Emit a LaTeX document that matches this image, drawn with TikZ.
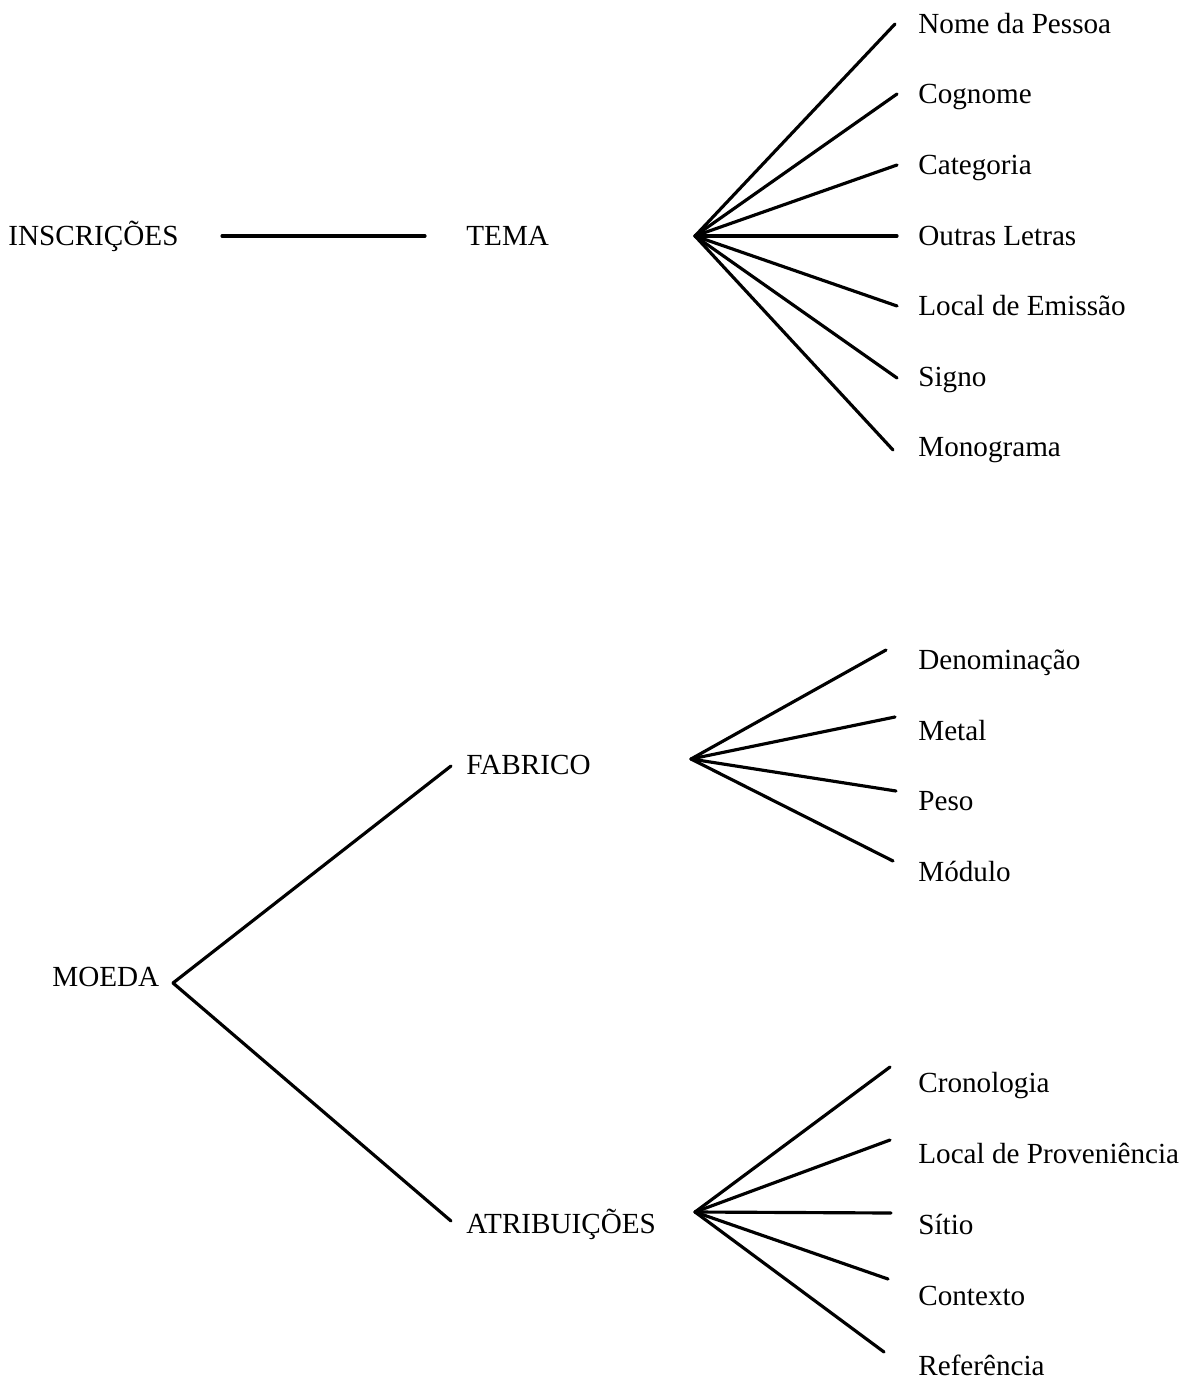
\documentclass[tikz,border=0pt]{standalone}
\usepackage{fontspec}
\setmainfont{Liberation Serif}
\usetikzlibrary{positioning}
\tikzset{
  termo/.style={anchor=base west, inner sep=0pt, font=\fontsize{16.6}{18}\selectfont},
  ramo/.style={line width=1.8pt, line cap=round},
}

\begin{document}
\begin{tikzpicture}[x=0.02cm,y=-0.02cm]
	%% frame of the page
	\useasboundingbox (0,0) rectangle (1191,1381);

	\def\folhax{918} % left edge of the leaf texts

	% INSCRICOES -- TEMA
	\node[termo] (insc) at (8,246) {INSCRIÇÕES};
	\node[termo] (tema) at (466,246) {TEMA};
	\coordinate (inscfim) at (222,236);
	\coordinate (temafim) at (425,236);
	\draw[ramo] (inscfim) -- (temafim);

	\coordinate (temafan) at (695,236);
	\foreach \nome/\y/\dx/\dy [count=\i] in {
		Nome da Pessoa/34/-23/-10,
		Cognome/104/-21/-10,
		Categoria/175/-21/-10,
		Outras Letras/246/-21/-10,
		Local de Emissão/316/-21/-10,
		Signo/387/-21/-9,
		Monograma/457/-25/-7}{
		\node[termo] (tema\i) at (\folhax,\y) {\nome};
		\draw[ramo] (temafan) -- ([shift={(\dx,\dy)}]tema\i.base west);
	}

	% MOEDA
	\node[termo] (moeda) at (52,986) {MOEDA};
	\coordinate (moedafan) at (173,983);
	\node[termo] (fab) at (466,774) {FABRICO};
	\node[termo] (atrib) at (466,1233) {ATRIBUIÇÕES};
	\draw[ramo] (moedafan) -- ([shift={(-15,-8)}]fab.base west);
	\draw[ramo] (moedafan) -- ([shift={(-15,-12)}]atrib.base west);

	% FABRICO
	\coordinate (fabfan) at (691,759);
	\foreach \nome/\y/\dx/\dy [count=\i] in {
		Denominação/669/-32/-19,
		Metal/740/-23/-23,
		Peso/810/-22/-19,
		Módulo/881/-25/-20}{
		\node[termo] (fab\i) at (\folhax,\y) {\nome};
		\draw[ramo] (fabfan) -- ([shift={(\dx,\dy)}]fab\i.base west);
	}

	% ATRIBUICOES
	\coordinate (atribfan) at (695,1212);
	\foreach \nome/\y/\dx/\dy [count=\i] in {
		Cronologia/1092/-28/-25,
		Local de Proveniência/1163/-28/-23,
		Sítio/1234/-27/-21,
		Contexto/1305/-30/-26,
		Referência/1375/-34/-23}{
		\node[termo] (atrib\i) at (\folhax,\y) {\nome};
		\draw[ramo] (atribfan) -- ([shift={(\dx,\dy)}]atrib\i.base west);
	}
\end{tikzpicture}
\end{document}
